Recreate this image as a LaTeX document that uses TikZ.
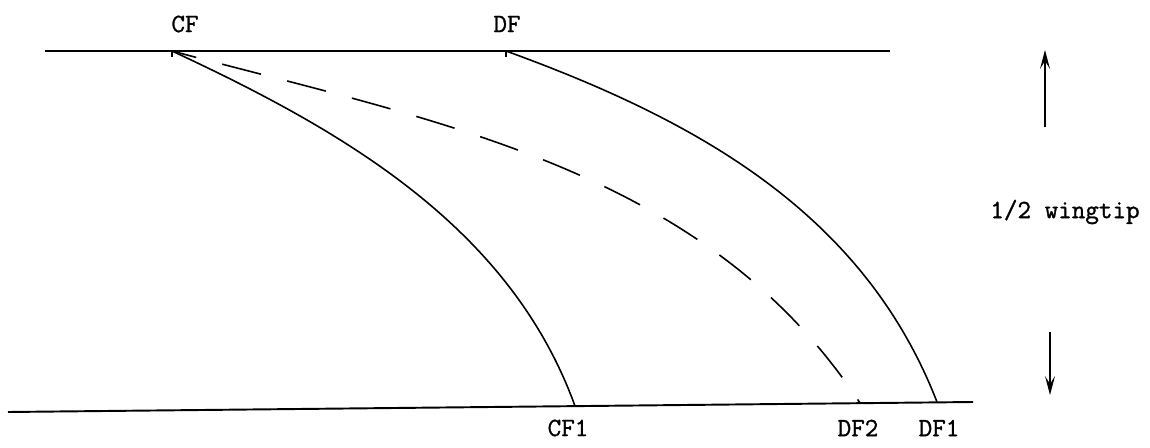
\documentclass[tikz,border=0pt]{standalone}
\usepackage{fontspec}
\newfontfamily\typew[FakeBold=1.2]{Latin Modern Mono}
\usetikzlibrary{arrows.meta}
\begin{document}
\begin{tikzpicture}[x=0.02cm,y=-0.02cm,
  lbl/.style={font=\typew\fontsize{15}{17}\selectfont, inner sep=0pt},
  edge/.style={line width=0.9pt},
  base/.style={line width=1.1pt},
  dimarrow/.style={line width=0.7pt,-{Stealth[length=0.38cm,width=0.2cm,inset=0.16cm]}}]
\useasboundingbox (0,0) rectangle (1150,447);
% reference lines
\coordinate (TL) at (45,51);
\coordinate (TR) at (890,51);
\coordinate (BL) at (8,412);
\coordinate (BR) at (973,402);
\draw[base] (TL) -- (TR);
\draw[base] (BL) -- (BR);
% points
\coordinate (CF) at (172,51);
\coordinate (DF) at (506,51);
\coordinate (CF1) at (575,406);
\coordinate (DF2) at (860,403);
\coordinate (DF1) at (937,402);
\draw[edge] (CF) -- ++(0,6);
\draw[edge] (DF) -- ++(0,6);
% curves
\draw[edge] (CF) .. controls (344,131) and (510,227) .. (CF1);
\draw[edge,dash pattern=on 0.8cm off 0.54cm,dash phase=0.3cm] (CF) .. controls (442,123) and (707,170) .. (DF2);
\draw[edge] (DF) .. controls (699,121) and (864,214) .. (DF1);
% labels
\node[lbl] (lCF) at (185,24) {CF};
\node[lbl] (lDF) at (507,24) {DF};
\node[lbl] (lCF1) at (568,428) {CF1};
\node[lbl] (lDF2) at (858,428) {DF2};
\node[lbl] (lDF1) at (939,428) {DF1};
\node[lbl] (wing) at (1065,212) {1/2 wingtip};
% dimension arrows
\coordinate (U0) at (1045,127);
\coordinate (U1) at (1045,50);
\coordinate (D0) at (1050,332);
\coordinate (D1) at (1050,395);
\draw[dimarrow] (U0) -- (U1);
\draw[dimarrow] (D0) -- (D1);
\end{tikzpicture}
\end{document}
